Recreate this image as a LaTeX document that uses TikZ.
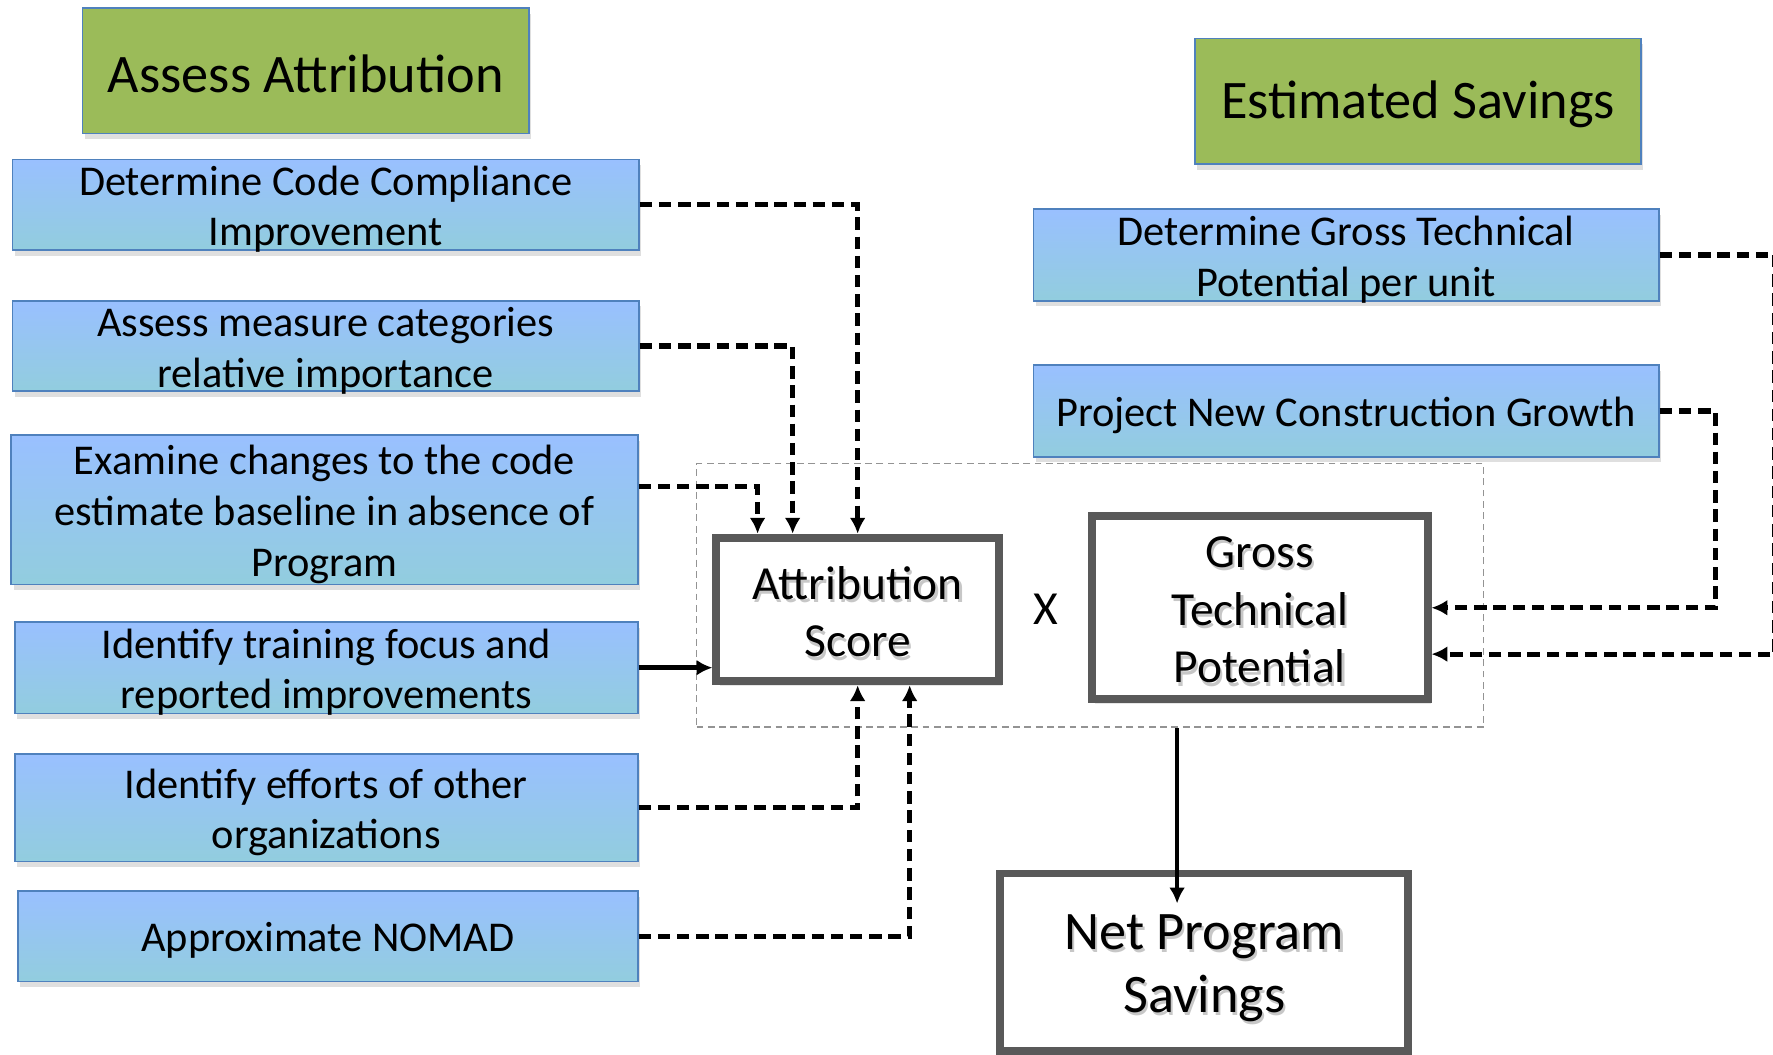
\documentclass[tikz,border=0pt]{standalone}
\usepackage{fontspec}
\setmainfont{Carlito}
\usetikzlibrary{arrows.meta,shadows}
\definecolor{hdrgreen}{RGB}{155,187,89}
\definecolor{bordblue}{RGB}{79,129,189}
\definecolor{topblue}{RGB}{153,192,255}
\definecolor{botblue}{RGB}{146,205,222}
\definecolor{boxgray}{RGB}{89,89,89}
\tikzset{
  hdr/.style={draw=bordblue, line width=1.5pt, fill=hdrgreen, inner sep=0pt,
    drop shadow={opacity=0.25, shadow xshift=2pt, shadow yshift=-5pt}},
  hdrtext/.style={label={[yshift=-3pt, font=\fontsize{48}{58}\selectfont]center:#1}},
  task/.style={draw=bordblue, line width=1.5pt, top color=topblue, bottom color=botblue,
    inner sep=0pt, drop shadow={opacity=0.25, shadow xshift=2pt, shadow yshift=-5pt}},
  tasktext/.style={label={[align=center, yshift=-4pt, font=\fontsize{37.5}{45}\selectfont]center:#1}},
  calc/.style={draw=boxgray, line width=7pt, fill=white, inner sep=0pt,
    drop shadow={opacity=0.2, shadow xshift=3pt, shadow yshift=-4pt}},
  calctext/.style={
    label={[align=center, yshift=-5pt, xshift=2pt, text=black, opacity=0.22, font=\fontsize{42}{51}\selectfont]center:#1},
    label={[align=center, yshift=-2pt, font=\fontsize{42}{51}\selectfont]center:#1}},
  nettext/.style={
    label={[align=center, yshift=-8pt, xshift=2pt, text=black, opacity=0.22, font=\fontsize{48}{56}\selectfont]center:#1},
    label={[align=center, yshift=-5pt, font=\fontsize{48}{56}\selectfont]center:#1}},
  dasharrow/.style={line width=4.5pt, dash pattern=on 11pt off 6pt, -{Latex[length=14pt,width=14pt]}},
  solidarrow/.style={line width=4.5pt, -{Latex[length=14pt,width=14pt]}},
}
\begin{document}
\begin{tikzpicture}[x=1pt,y=-1pt]
\useasboundingbox (0,0) rectangle (1568,933);
% container
\node[draw=gray!85, line width=1.5pt, dash pattern=on 6pt off 4pt, minimum width=696pt, minimum height=233pt, inner sep=0pt] (cont) at (964,526.5) {};
% headers
\node[hdr, minimum width=395pt, minimum height=111pt, hdrtext={Assess Attribution}] (aa) at (270.5,62.5) {};
\node[hdr, minimum width=394pt, minimum height=111pt, hdrtext={Estimated Savings}] (es) at (1254,89.5) {};
% tasks
\node[task, minimum width=554pt, minimum height=80pt, tasktext={Determine Code Compliance\\Improvement}] (b1) at (288,181) {};
\node[task, minimum width=554pt, minimum height=80pt, tasktext={Assess measure categories\\relative importance}] (b2) at (288,306) {};
\node[task, minimum width=554pt, minimum height=132pt, tasktext={Examine changes to the code\\estimate baseline in absence of\\Program}] (b3) at (287,451) {};
\node[task, minimum width=551pt, minimum height=81pt, tasktext={Identify training focus and\\reported improvements}] (b4) at (288.5,590.5) {};
\node[task, minimum width=551pt, minimum height=95pt, tasktext={Identify efforts of other\\organizations}] (b5) at (288.5,714.5) {};
\node[task, minimum width=548pt, minimum height=80pt, tasktext={Approximate NOMAD}] (b6) at (290,828) {};
\node[task, minimum width=553pt, minimum height=81pt, tasktext={Determine Gross Technical\\Potential per unit}] (g1) at (1190.5,225.5) {};
\node[task, minimum width=553pt, minimum height=81pt, tasktext={Project New Construction Growth}] (g2) at (1190.5,363.5) {};
% calculation boxes
\node[calc, minimum width=250pt, minimum height=127pt, calctext={Attribution\\Score}] (att) at (758.5,539) {};
\node[font=\fontsize{42}{51}\selectfont] (x) at (925,539) {X};
\node[calc, minimum width=297pt, minimum height=162pt, calctext={Gross\\Technical\\Potential}] (gtp) at (1114,537.5) {};
\node[calc, minimum width=361pt, minimum height=157pt, nettext={Net Program\\Savings}] (nps) at (1065,851) {};
% connectors
\draw[dasharrow] (b1.east) -| (att.north);
\draw[dasharrow] (b2.east) -| ([xshift=-57.5pt]att.north);
\draw[dasharrow] ([yshift=21pt]b3.east) -| ([xshift=-88.5pt]att.north);
\draw[solidarrow] (b4.east) -- (b4.east -| att.west);
\draw[dasharrow] (b5.east) -| (att.south);
\draw[dasharrow] (b6.east) -| ([xshift=46pt]att.south);
\draw[dasharrow] (g2.east) -- ++(49,0) |- (gtp.east);
\draw[dasharrow] (g1.east) -- ++(102,0) |- ([yshift=-41pt]gtp.east);
\draw[line width=3.5pt, -{Latex[length=14pt,width=14pt]}] ([xshift=77pt]cont.south) -- ([xshift=-24pt,yshift=-30pt]nps.north);
\end{tikzpicture}
\end{document}
